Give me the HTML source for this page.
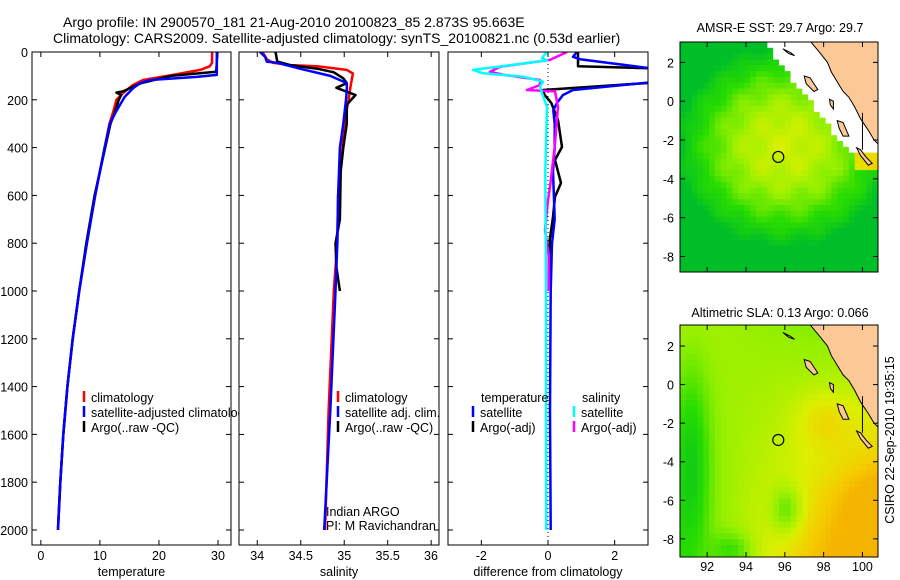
<!DOCTYPE html>
<html><head><meta charset="utf-8"><style>
body{margin:0;background:#fff;}
svg{display:block;font-family:"Liberation Sans",sans-serif;font-size:12.5px;}
.big{font-size:14px;}
</style></head><body>
<svg id="fig" width="900" height="580" viewBox="0 0 900 580" xmlns="http://www.w3.org/2000/svg">
<rect width="900" height="580" fill="#fff"/>
<text class="big" x="63" y="27">Argo profile: IN 2900570_181 21-Aug-2010 20100823_85 2.873S 95.663E</text>
<text class="big" x="53" y="43">Climatology: CARS2009. Satellite-adjusted climatology: synTS_20100821.nc (0.53d earlier)</text>
<text x="780" y="32" text-anchor="middle">AMSR-E SST: 29.7 Argo: 29.7</text>
<text x="780" y="317" text-anchor="middle">Altimetric SLA: 0.13 Argo: 0.066</text>
<text transform="translate(894,440) rotate(-90)" text-anchor="middle">CSIRO 22-Sep-2010 19:35:15</text>
<g id="g"></g>
</svg>
<script>
// ---- profile data (depth in dbar, values) ----
const tClimDepth=[0,45,60,75,96,117,138,170,200,255,300,400,600,800,1000,1200,1400,1600,1800,2000];
const tClimVal=[29,29,28.6,27,22.4,17.3,15.6,14,12.8,12.2,11.6,10.8,9.2,7.8,6.5,5.4,4.5,3.8,3.3,2.9];
const tSatDepth=[0,96,104,117,130,152,188,255,300,400,600,800,1000,1200,1400,1600,1800,2000];
const tSatVal=[29.8,29.8,26.4,18.5,16.8,15.6,14.2,12.6,11.7,10.8,9.2,7.8,6.5,5.4,4.5,3.8,3.3,2.9];
const tArgoDepth=[0,83,100,130,165,170,180,200,255,300,400,600,800,1000,1200,1400,1600,1800,1990];
const tArgoVal=[29.9,29.7,22,17,13.9,12.8,13.6,13.2,12.5,11.8,10.9,9.1,7.7,6.5,5.4,4.5,3.8,3.3,2.9];
const sClimDepth=[0,30,45,55,60,75,90,110,150,200,300,400,600,800,1000,1500,2000];
const sClimVal=[34.06,34.11,34.18,34.38,34.69,35.03,35.1,35.09,35.07,35.05,35.0,34.98,34.93,34.92,34.88,34.82,34.78];
const sSatDepth=[0,20,40,45,70,100,130,160,200,300,400,600,800,1000,1500,2000];
const sSatVal=[34.03,34.09,34.11,34.23,34.49,34.84,35.03,35.03,35.02,34.99,34.95,34.93,34.92,34.9,34.84,34.77];
const sArgoDepth=[0,40,55,70,85,110,130,150,180,220,300,400,500,700,800,900,1000];
const sArgoVal=[34.21,34.23,34.38,34.69,34.88,34.99,35.03,34.91,35.13,35.03,35.03,34.99,34.96,34.95,34.9,34.91,34.95];
const dTSatDepth=[0,20,30,67,75,120,128,159,180,213,243,300,400,500,700,800,1000,1500,2000];
const dTSatVal=[0.87,0.75,0.96,3,3.5,3.5,3.0,0.75,0.45,0.27,0.16,0.2,0.2,0.15,0.2,0.12,0.08,0.06,0.08];
const dTArgoDepth=[0,60,70,125,159,180,213,284,397,452,548,606,690,787,900,1000];
const dTArgoVal=[0.9,0.9,3.5,3.5,-0.15,-0.1,0.1,0.3,0.42,0.21,0.39,0.21,0.15,0.05,0.05,0.05];
const dSSatDepth=[0,25,35,54,75,89,103,124,145,172,230,500,1000,1500,2000];
const dSSatVal=[-0.03,-0.18,-0.03,-1.05,-2.25,-1.95,-0.75,-0.15,-0.24,-0.18,-0.03,-0.08,-0.06,-0.06,-0.05];
const dSArgoDepth=[0,33,62,83,95,117,138,159,165,230,397,565,620,745,850,1000];
const dSArgoVal=[0.57,0.06,-1.44,-1.74,-1.35,-0.24,-0.24,-0.63,0.21,0.3,0.2,0.06,0.0,-0.09,0.02,0.02];
const depthTicks=[0,200,400,600,800,1000,1200,1400,1600,1800,2000];
const tTicks=[0,10,20,30];
const sTicks=[34,34.5,35,35.5,36];
const dTicks=[-2,0,2];
const latTicks=[2,0,-2,-4,-6,-8];
const lonTicks=[92,94,96,98,100];

const NS='http://www.w3.org/2000/svg';
const G=document.getElementById('g');
function mk(tag,attrs,parent){const e=document.createElementNS(NS,tag);for(const k in attrs)e.setAttribute(k,attrs[k]);(parent||G).appendChild(e);return e;}
function lin(d0,d1,r0,r1){return v=>r0+(v-d0)*(r1-r0)/(d1-d0);}
const TOP=52,BOT=545;
const yD=lin(0,2000,52,530);

function panel(name,x0,x1,dom,ticks,label){
  const xs=lin(dom[0],dom[1],x0,x1);
  const grp=mk('g',{});
  
  
  mk('rect',{x:x0,y:TOP,width:x1-x0,height:BOT-TOP,fill:'#fff'},grp);
  const cp=mk('clipPath',{id:'c'+name},grp);
  mk('rect',{x:x0,y:TOP,width:x1-x0,height:BOT-TOP},cp);
  ticks.forEach(t=>{const x=xs(t);
    mk('line',{x1:x,x2:x,y1:BOT,y2:BOT-5,stroke:'#000'},grp);
    mk('line',{x1:x,x2:x,y1:TOP,y2:TOP+5,stroke:'#000'},grp);
    let lx=Math.min(x,x1-8);
    const tl=mk('text',{x:lx,y:560,'text-anchor':'middle'},grp);tl.textContent=t;
    
    
  });
  depthTicks.forEach(d=>{const y=yD(d);
    mk('line',{x1:x0,x2:x0+5,y1:y,y2:y,stroke:'#000'},grp);
    mk('line',{x1:x1,x2:x1-5,y1:y,y2:y,stroke:'#000'},grp);});
  const xl=mk('text',{x:(x0+x1)/2,y:576,'text-anchor':'middle'},grp);xl.textContent=label;
  
  
  const lines=mk('g',{'clip-path':'url(#c'+name+')'},grp);
  grp._xs=xs;grp._lines=lines;grp._x0=x0;grp._x1=x1;
  return grp;
}
function series(p,depths,vals,color,name){
  const d=depths.map((z,i)=>(i?'L':'M')+p._xs(vals[i]).toFixed(1)+' '+yD(z).toFixed(1)).join(' ');
  const e=mk('path',{d:d,fill:'none',stroke:color,'stroke-width':2.5,'stroke-linejoin':'round'},p._lines);
  
  
}
function frame(p){mk('rect',{x:p._x0,y:TOP,width:p._x1-p._x0,height:BOT-TOP,fill:'none',stroke:'#000'},p);}
function legend(p,x,y,color,txt,name){
  if(color)mk('line',{x1:x,x2:x,y1:y-6,y2:y+5,stroke:color,'stroke-width':2.5},p);
  const t=mk('text',{x:x+7,y:y+5},p);t.textContent=txt;
  
  
}

// panel 1: temperature
const p1=panel('temperature',32,231,[-1.5,32.2],tTicks,'temperature');
depthTicks.forEach(d=>{const t=mk('text',{x:28,y:yD(d)+5,'text-anchor':'end'});t.textContent=d;
  
  });
series(p1,tClimDepth,tClimVal,'#ff0000','temp-climatology-line');
series(p1,tArgoDepth,tArgoVal,'#000','temp-argo-line');
series(p1,tSatDepth,tSatVal,'#0000ff','temp-satellite-line');
frame(p1);
legend(p1,84,397,'#ff0000','climatology','legend-climatology');
legend(p1,84,412,'#0000ff','satellite-adjusted climatology','legend-satellite-adjusted');
legend(p1,84,427,'#000','Argo(..raw -QC)','legend-argo');

// panel 2: salinity
const p2=panel('salinity',239,439,[33.79,36.09],sTicks,'salinity');
series(p2,sClimDepth,sClimVal,'#ff0000','sal-climatology-line');
series(p2,sArgoDepth,sArgoVal,'#000','sal-argo-line');
series(p2,sSatDepth,sSatVal,'#0000ff','sal-satellite-line');
frame(p2);
legend(p2,338,397,'#ff0000','climatology','legend-climatology');
legend(p2,338,412,'#0000ff','satellite adj. clim.','legend-satellite-adj');
legend(p2,338,427,'#000','Argo(..raw -QC)','legend-argo');
legend(p2,319,511,null,'Indian ARGO','pi-institution');
legend(p2,319,525,null,'PI: M Ravichandran','pi-name');

// panel 3: differences
const p3=panel('difference',448,648,[-3,3],dTicks,'difference from climatology');
mk('line',{x1:p3._xs(0),x2:p3._xs(0),y1:TOP,y2:BOT,stroke:'#000','stroke-dasharray':'1 3'},p3._lines);
series(p3,dTArgoDepth,dTArgoVal,'#000','diff-temp-argo-line');
series(p3,dTSatDepth,dTSatVal,'#0000ff','diff-temp-satellite-line');
series(p3,dSArgoDepth,dSArgoVal,'#ff00ff','diff-sal-argo-line');
series(p3,dSSatDepth,dSSatVal,'#00ffff','diff-sal-satellite-line');
frame(p3);
legend(p3,474,397,null,'temperature','legend-temperature-header');
legend(p3,473,412,'#0000ff','satellite','legend-temp-satellite');
legend(p3,473,427,'#000','Argo(-adj)','legend-temp-argo');
legend(p3,575,397,null,'salinity','legend-salinity-header');
legend(p3,574,412,'#00ffff','satellite','legend-sal-satellite');
legend(p3,574,427,'#ff00ff','Argo(-adj)','legend-sal-argo');

// ---- maps ----
const coast=[[97.3,3.1],[97.8,2.5],[98.2,2.0],[98.4,1.5],[98.7,1.0],[99.0,0.5],[99.3,0.2],[99.6,-0.3],[99.9,-0.9],[100.3,-1.5],[100.6,-2.0],[100.9,-2.3],[100.9,3.1]];
const islands=[
 [[95.9,2.7],[96.3,2.5],[96.5,2.35],[96.2,2.45]],
 [[97.0,1.3],[97.3,1.2],[97.7,0.6],[97.5,0.5],[97.1,0.9]],
 [[98.3,0.1],[98.5,0.0],[98.5,-0.4],[98.35,-0.2]],
 [[98.7,-1.0],[99.0,-1.1],[99.3,-1.8],[99.0,-1.8],[98.8,-1.4]],
 [[99.7,-2.4],[99.9,-2.5],[100.2,-2.9],[100.5,-3.2],[100.3,-3.3],[99.9,-2.8]]
];
function colorOf(v){
  const stops=[[0,[0,190,40]],[0.3,[40,220,0]],[0.55,[150,240,0]],[0.75,[220,240,0]],[0.9,[245,205,0]],[1,[245,180,0]]];
  v=Math.max(0,Math.min(1,v));
  for(let i=1;i<stops.length;i++){if(v<=stops[i][0]){const a=stops[i-1],b=stops[i];const f=(v-a[0])/(b[0]-a[0]);
    return 'rgb('+a[1].map((c,k)=>Math.round(c+(b[1][k]-c)*f)).join(',')+')';}}
}
function map(name,y0,y1,latTop,latBot,field,isSST,xlabels){
  const x0=680,x1=878;
  const xs=lin(90.6,100.8,x0,x1), ys=lin(latTop,latBot,y0,y1);
  const grp=mk('g',{});
  
  
  const cp=mk('clipPath',{id:'m'+name},grp);
  mk('rect',{x:x0,y:y0,width:x1-x0,height:y1-y0},cp);
  const cells=mk('g',{'clip-path':'url(#m'+name+')'},grp);
  const step=0.3;
  for(let lon=90.6;lon<100.8;lon+=step){for(let lat=latTop;lat>latBot;lat-=step){
    const cx=lon+step/2,cy=lat-step/2;
    let fill;
    if(isSST && cy>-2.5 && cx>94.9+(3.1-cy)*0.77) fill='#fff';
    else fill=colorOf(field(cx,cy));
    mk('rect',{x:xs(lon).toFixed(1),y:ys(lat).toFixed(1),width:(xs(lon+step)-xs(lon)+0.6).toFixed(1),height:(ys(lat-step)-ys(lat)+0.6).toFixed(1),fill:fill},cells);
  }}
  const pt=a=>a.map(p=>xs(p[0]).toFixed(1)+','+ys(p[1]).toFixed(1)).join(' ');
  const land=mk('polygon',{points:pt(coast),fill:'#fcc896',stroke:'#000','stroke-width':1},cells);
  
  
  islands.forEach(is=>mk('polygon',{points:pt(is),fill:'#fcc896',stroke:'#000'},cells));
  mk('line',{x1:xs(100),x2:xs(100),y1:ys(-0.6),y2:ys(-2.5),stroke:'#000'},cells);
  const m=mk('circle',{cx:xs(95.663),cy:ys(-2.873),r:5.5,fill:'none',stroke:'#000','stroke-width':1.2},grp);
  
  
  mk('rect',{x:x0,y:y0,width:x1-x0,height:y1-y0,fill:'none',stroke:'#000'},grp);
  latTicks.forEach(l=>{const y=ys(l);
    mk('line',{x1:x0,x2:x0+5,y1:y,y2:y,stroke:'#000'},grp);
    mk('line',{x1:x1,x2:x1-5,y1:y,y2:y,stroke:'#000'},grp);
    const t=mk('text',{x:674,y:y+5,'text-anchor':'end'},grp);t.textContent=l;
    
    });
  lonTicks.forEach(l=>{const x=xs(l);
    mk('line',{x1:x,x2:x,y1:y1,y2:y1-5,stroke:'#000'},grp);
    mk('line',{x1:x,x2:x,y1:y0,y2:y0+5,stroke:'#000'},grp);
    if(xlabels){const t=mk('text',{x:x,y:y1+14,'text-anchor':'middle'},grp);t.textContent=l;
      
      }});
}
function sstField(lon,lat){
  const d=Math.hypot((lon-96.0)/4.5,(lat+2.3)/4.2);
  let v=0.7-0.45*d*d;
  if(lon>99.5&&lat<-2.3&&lat>-3.6)v=0.85;
  return v+0.05*Math.sin(lon*3.1)*Math.cos(lat*2.7);
}
function slaField(lon,lat){
  let v=0.64+0.035*(lon-95)-0.008*(lat+3)*(lon-93);
  v+=0.15*Math.exp(-((lon-98)**2+(lat+1.8)**2)/2);
  v+=0.1*Math.exp(-((lon-100.5)**2+(lat+6.3)**2)/3);
  v-=0.3*Math.exp(-((lon-96.1)**2/0.6+(lat+6.5)**2/1.5));
  v-=0.35*Math.exp(-((lon-91.2)**2/0.8+(lat+4)**2/20));
  v-=0.25*Math.exp(-((lon-93.3)**2/1+(lat+8.6)**2/0.8));
  return v;
}
map('sst',42,272,3.05,-8.8,sstField,true,false);
map('sla',325,557,3.09,-8.94,slaField,false,true);
</script>
</body></html>
